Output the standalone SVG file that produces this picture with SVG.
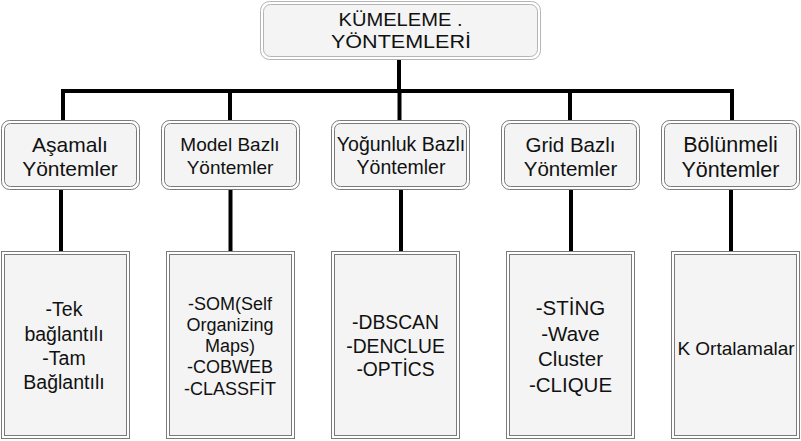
<svg xmlns="http://www.w3.org/2000/svg" width="801" height="441" viewBox="0 0 801 441">
<style>
  .o { fill: #ffffff; stroke: #7a7a7a; stroke-width: 1; }
  .i { fill: #f4f4f4; stroke: #7a7a7a; stroke-width: 1; }
  .ot { fill: #ffffff; stroke: #b4b4b4; stroke-width: 1; }
  .it { fill: #f4f4f4; stroke: #b4b4b4; stroke-width: 1; }
  text { font-family: "Liberation Sans", Arial, sans-serif; fill: #111; text-anchor: middle; }
  .c line { stroke: #000; stroke-width: 4; }
</style>
<rect width="801" height="441" fill="#ffffff"/>
<g id="connectors" class="c">
  <line x1="399" y1="60" x2="399" y2="91"/>
  <line x1="61" y1="91" x2="734" y2="91"/>
  <line x1="63" y1="89" x2="63" y2="121"/>
  <line x1="230" y1="89" x2="230" y2="121"/>
  <line x1="399.5" y1="89" x2="399.5" y2="121"/>
  <line x1="570" y1="89" x2="570" y2="121"/>
  <line x1="732" y1="89" x2="732" y2="121"/>
  <line x1="61" y1="190" x2="61" y2="252"/>
  <line x1="230.5" y1="190" x2="230.5" y2="252"/>
  <line x1="401" y1="190" x2="401" y2="252"/>
  <line x1="571" y1="190" x2="571" y2="252"/>
  <line x1="731" y1="190" x2="731" y2="252"/>
</g>
<g id="root">
  <rect class="ot" x="260.5" y="1.5" width="280" height="58" rx="9"/>
  <rect class="it" x="263.5" y="4.5" width="274" height="52" rx="7"/>
  <text x="400.5" y="26" font-size="19" textLength="124" lengthAdjust="spacingAndGlyphs">KÜMELEME .</text>
  <text x="401" y="47.5" font-size="19" textLength="140" lengthAdjust="spacingAndGlyphs">YÖNTEMLERİ</text>
</g>
<g id="asamali">
  <rect class="o" x="1.5" y="120.5" width="138" height="69" rx="8"/>
  <rect class="i" x="4.5" y="123.5" width="132" height="63" rx="6"/>
  <text x="70" y="152" font-size="21">Aşamalı</text>
  <text x="70" y="176" font-size="21">Yöntemler</text>
</g>
<g id="model">
  <rect class="o" x="161.5" y="120.5" width="138" height="69" rx="8"/>
  <rect class="i" x="164.5" y="123.5" width="132" height="63" rx="6"/>
  <text x="230" y="151" font-size="19">Model Bazlı</text>
  <text x="230" y="173.5" font-size="19">Yöntemler</text>
</g>
<g id="yogunluk">
  <rect class="o" x="331.5" y="120.5" width="138" height="69" rx="8"/>
  <rect class="i" x="334.5" y="123.5" width="132" height="63" rx="6"/>
  <text x="401" y="151" font-size="19.5">Yoğunluk Bazlı</text>
  <text x="401" y="173.5" font-size="19.5">Yöntemler</text>
</g>
<g id="grid">
  <rect class="o" x="501.5" y="120.5" width="138" height="69" rx="8"/>
  <rect class="i" x="504.5" y="123.5" width="132" height="63" rx="6"/>
  <text x="570.5" y="151.5" font-size="20.5">Grid Bazlı</text>
  <text x="570.5" y="176" font-size="20.5">Yöntemler</text>
</g>
<g id="bolunmeli">
  <rect class="o" x="661.5" y="120.5" width="138" height="69" rx="8"/>
  <rect class="i" x="664.5" y="123.5" width="132" height="63" rx="6"/>
  <text x="730.5" y="151.5" font-size="21.5">Bölünmeli</text>
  <text x="730.5" y="177" font-size="21.5">Yöntemler</text>
</g>
<g id="asamali-list">
  <rect class="o" x="1.5" y="251.5" width="128" height="187"/>
  <rect class="i" x="4.5" y="254.5" width="122" height="181"/>
  <text x="64" y="316" font-size="19.5">-Tek</text>
  <text x="64" y="340.5" font-size="19.5">bağlantılı</text>
  <text x="64" y="364.5" font-size="19.5">-Tam</text>
  <text x="64" y="388.5" font-size="19.5">Bağlantılı</text>
</g>
<g id="model-list">
  <rect class="o" x="166.5" y="251.5" width="128" height="187"/>
  <rect class="i" x="169.5" y="254.5" width="122" height="181"/>
  <text x="230" y="309.5" font-size="18">-SOM(Self</text>
  <text x="230" y="330.5" font-size="18">Organizing</text>
  <text x="230" y="351.5" font-size="18">Maps)</text>
  <text x="230" y="373" font-size="18">-COBWEB</text>
  <text x="230" y="394.5" font-size="18">-CLASSFİT</text>
</g>
<g id="yogunluk-list">
  <rect class="o" x="331.5" y="251.5" width="128" height="187"/>
  <rect class="i" x="334.5" y="254.5" width="122" height="181"/>
  <text x="395.5" y="328.5" font-size="19.3">-DBSCAN</text>
  <text x="395.5" y="352.5" font-size="19.3">-DENCLUE</text>
  <text x="395.5" y="376" font-size="19.3">-OPTİCS</text>
</g>
<g id="grid-list">
  <rect class="o" x="506.5" y="251.5" width="128" height="187"/>
  <rect class="i" x="509.5" y="254.5" width="122" height="181"/>
  <text x="570.5" y="315" font-size="20.5">-STİNG</text>
  <text x="570.5" y="340.5" font-size="20.5">-Wave</text>
  <text x="570.5" y="366" font-size="20.5">Cluster</text>
  <text x="570.5" y="391.5" font-size="20.5">-CLIQUE</text>
</g>
<g id="bolunmeli-list">
  <rect class="o" x="671.5" y="251.5" width="128" height="187"/>
  <rect class="i" x="674.5" y="254.5" width="122" height="181"/>
  <text x="736" y="354.5" font-size="19">K Ortalamalar</text>
</g>
</svg>
